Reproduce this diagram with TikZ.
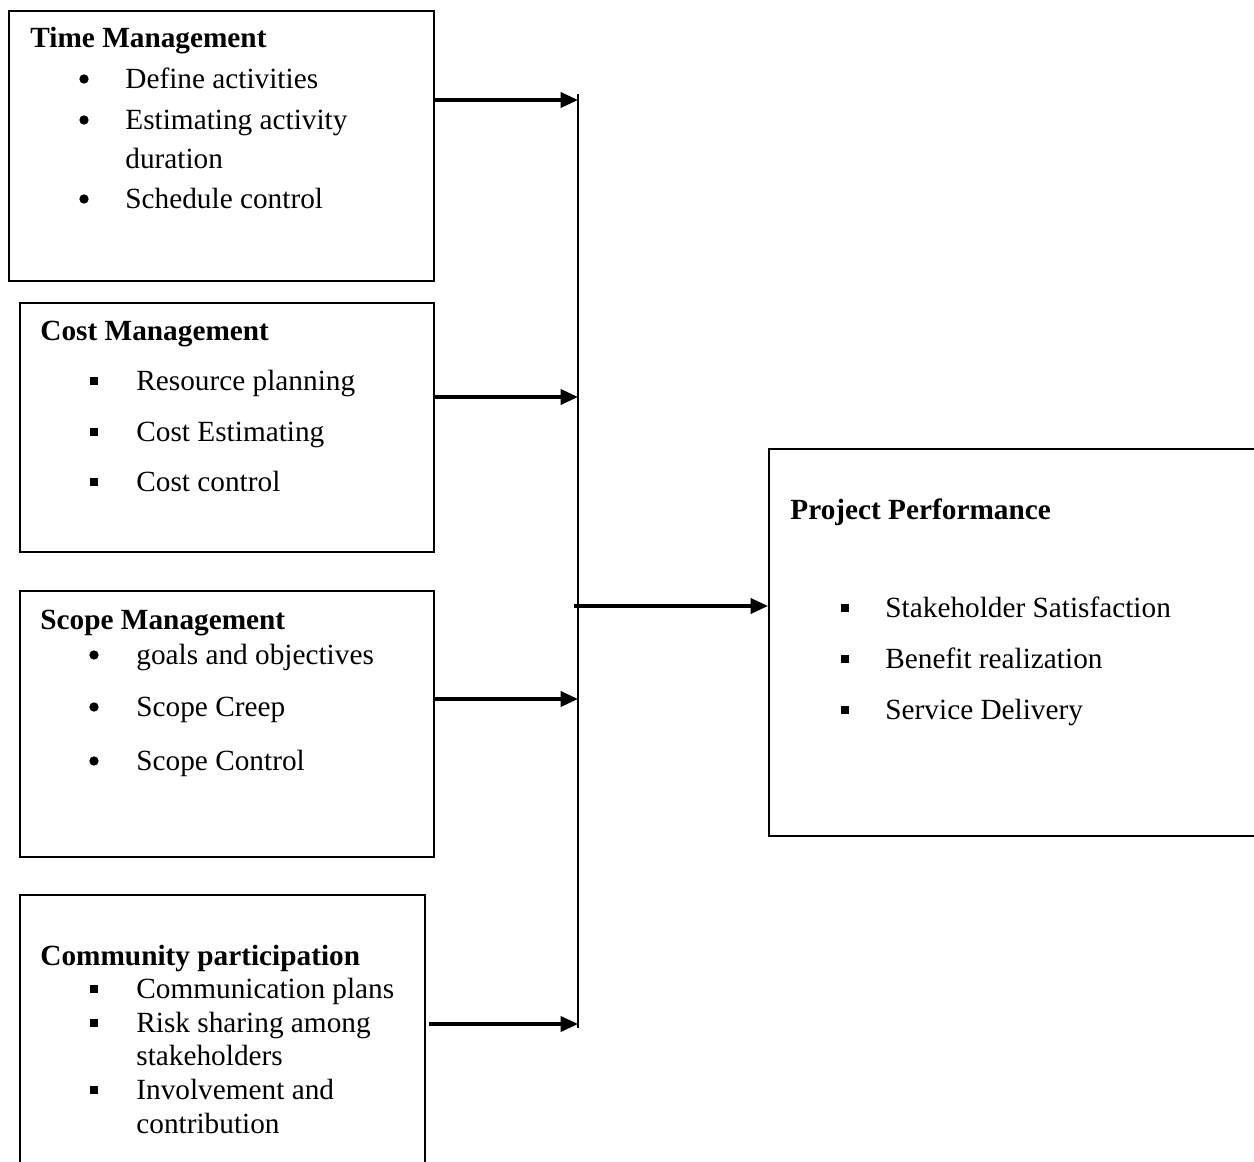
\documentclass[tikz,border=0pt]{standalone}
\usepackage{fontspec}
\setmainfont{Liberation Serif}
\usetikzlibrary{arrows.meta}

\tikzset{
  box/.style={draw, line width=0.9pt, inner sep=0pt, anchor=north west},
  txt/.style={inner sep=0pt, anchor=base west, font=\fontsize{13.5}{16}\selectfont},
  head/.style={txt, font=\fontsize{13.5}{16}\selectfont\bfseries},
  dot/.style={circle, fill, inner sep=0pt, minimum size=4.3pt},
  sq/.style={rectangle, fill, inner sep=0pt, minimum size=3.8pt},
  arr/.style={-{Triangle[length=8pt,width=7pt]}, line width=1.4pt},
}

\begin{document}
\begin{tikzpicture}[x=0.0162cm, y=-0.0162cm, >=Stealth]
        \useasboundingbox (0,0) rectangle (1254,1162);
        \clip (0,0) rectangle (1254,1162);
        % boxes
        \node[box, minimum width=425*0.0162cm, minimum height=270*0.0162cm] (time) at (8,10) {};
        \node[box, minimum width=414*0.0162cm, minimum height=249*0.0162cm] (cost) at (19,302) {};
        \node[box, minimum width=414*0.0162cm, minimum height=266*0.0162cm] (scope) at (19,590) {};
        \node[box, minimum width=405*0.0162cm, minimum height=300*0.0162cm] (comm) at (19,894) {};
        \node[box, minimum width=520*0.0162cm, minimum height=387*0.0162cm] (perf) at (768,448) {};
        % time management
        \node[head] (timeh) at (30,48) {Time Management};
        \node[dot] at (84,79) {};
        \node[txt] (time1) at (125,88) {Define activities};
        \node[dot] at (84,120) {};
        \node[txt] (time2) at (125,129) {Estimating activity};
        \node[txt] (time2b) at (125,168) {duration};
        \node[dot] at (84,199) {};
        \node[txt] (time3) at (125,208) {Schedule control};
        % cost management
        \node[head] (costh) at (40,340) {Cost Management};
        \node[sq] at (94,381) {};
        \node[txt] (cost1) at (136,390) {Resource planning};
        \node[sq] at (94,432) {};
        \node[txt] (cost2) at (136,441) {Cost Estimating};
        \node[sq] at (94,482) {};
        \node[txt] (cost3) at (136,491) {Cost control};
        % scope management
        \node[head] (scopeh) at (40,629) {Scope Management};
        \node[dot] at (94,655) {};
        \node[txt] (scope1) at (136,664) {goals and objectives};
        \node[dot] at (94,707) {};
        \node[txt] (scope2) at (136,716) {Scope Creep};
        \node[dot] at (94,761) {};
        \node[txt] (scope3) at (136,770) {Scope Control};
        % community participation
        \node[head] (commh) at (40,965) {Community participation};
        \node[sq] at (94,989) {};
        \node[txt] (comm1) at (136,998) {Communication plans};
        \node[sq] at (94,1023) {};
        \node[txt] (comm2) at (136,1032) {Risk sharing among};
        \node[txt] (comm2b) at (136,1065) {stakeholders};
        \node[sq] at (94,1090) {};
        \node[txt] (comm3) at (136,1099) {Involvement and};
        \node[txt] (comm3b) at (136,1133) {contribution};
        % project performance
        \node[head] (perfh) at (790,519) {Project Performance};
        \node[sq] at (845,608) {};
        \node[txt] (perf1) at (885,617) {Stakeholder Satisfaction};
        \node[sq] at (845,659) {};
        \node[txt] (perf2) at (885,668) {Benefit realization};
        \node[sq] at (845,710) {};
        \node[txt] (perf3) at (885,719) {Service Delivery};
        % connectors
        \coordinate (bustop) at (578,94);
        \coordinate (busbot) at (578,1028);
        \coordinate (bus1) at (578,100);
        \coordinate (bus2) at (578,397);
        \coordinate (bus3) at (578,699);
        \coordinate (bus4) at (578,1024);
        \coordinate (busmid) at (574,606);
        \draw[line width=0.9pt] (bustop) -- (busbot);
        \draw[arr] (bus1 -| time.east) -- (bus1);
        \draw[arr] (bus2 -| cost.east) -- (bus2);
        \draw[arr] (bus3 -| scope.east) -- (bus3);
        \draw[arr] (bus4 -| comm.east) ++(3,0) -- (bus4);
        \draw[arr] (busmid) -- (busmid -| perf.west);
      \end{tikzpicture}
\end{document}
